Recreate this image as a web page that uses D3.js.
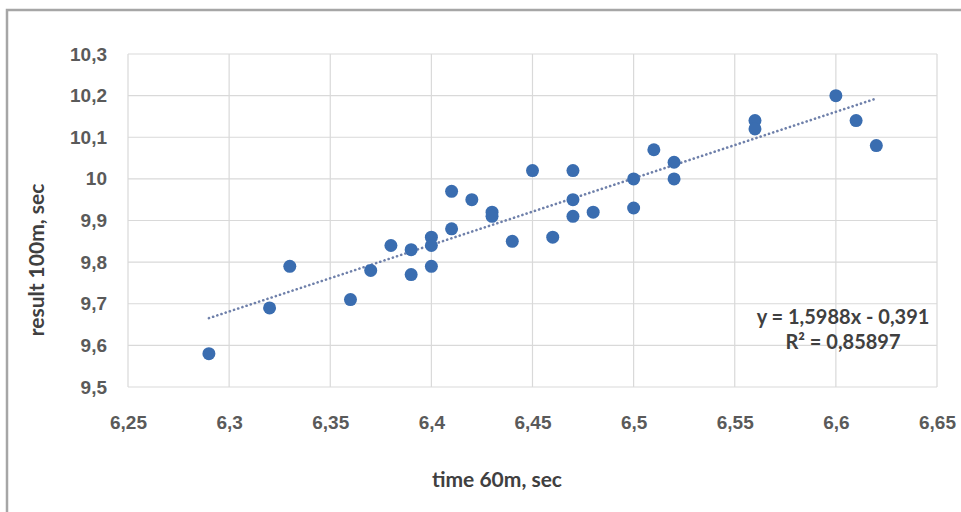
<!DOCTYPE html>
<html>
<head>
<meta charset="utf-8">
<script src="https://cdn.jsdelivr.net/npm/d3@7"></script>
<style>
  body { margin: 0; background: #fff; }
  svg { display: block; font-family: Lato, "Open Sans", sans-serif; }
</style>
</head>
<body>
<div id="chart"></div>
<script>
// time 60m (x) vs result 100m (y)
const time60 = [6.29, 6.32, 6.33, 6.36, 6.37, 6.38, 6.39, 6.39, 6.40, 6.40, 6.40,
                6.41, 6.41, 6.42, 6.43, 6.43, 6.44, 6.45, 6.46, 6.47, 6.47, 6.47,
                6.48, 6.50, 6.50, 6.51, 6.52, 6.52, 6.56, 6.56, 6.60, 6.61, 6.62];
const result100 = [9.58, 9.69, 9.79, 9.71, 9.78, 9.84, 9.83, 9.77, 9.86, 9.84, 9.79,
                   9.97, 9.88, 9.95, 9.92, 9.91, 9.85, 10.02, 9.86, 10.02, 9.95, 9.91,
                   9.92, 10.00, 9.93, 10.07, 10.04, 10.00, 10.14, 10.12, 10.20, 10.14, 10.08];
const xTicks = [6.25, 6.3, 6.35, 6.4, 6.45, 6.5, 6.55, 6.6, 6.65];
const yTicks = [9.5, 9.6, 9.7, 9.8, 9.9, 10, 10.1, 10.2, 10.3];
// linear trendline as shown on the chart
const slope = 1.5988, intercept = -0.391;
const eqLabel = "y = 1,5988x - 0,391";
const r2Label = "R² = 0,85897";

const width = 961, height = 512;
const margin = {left: 128, right: 24, top: 54, bottom: 125};

const svg = d3.select('#chart').append('svg')
    .attr('width', width)
    .attr('height', height);

// outer chart frame (cropped at right/bottom)
svg.append('rect')
    .attr('x', 7).attr('y', 10)
    .attr('width', width + 20).attr('height', height + 20)
    .attr('fill', 'none')
    .attr('stroke', '#a6a6a6')
    .attr('stroke-width', 2.5);

const x = d3.scaleLinear().domain([6.25, 6.65]).range([margin.left, width - margin.right]);
const y = d3.scaleLinear().domain([9.5, 10.3]).range([height - margin.bottom, margin.top]);

const fmt = d => String(+d.toFixed(2)).replace('.', ',');

// gridlines
svg.append('g')
    .selectAll('line')
    .data(xTicks)
    .join('line')
    .attr('x1', d => x(d)).attr('x2', d => x(d))
    .attr('y1', y(10.3)).attr('y2', y(9.5))
    .attr('stroke', '#d9d9d9').attr('stroke-width', 1.2);

svg.append('g')
    .selectAll('line')
    .data(yTicks)
    .join('line')
    .attr('x1', x(6.25)).attr('x2', x(6.65))
    .attr('y1', d => y(d)).attr('y2', d => y(d))
    .attr('stroke', '#d9d9d9').attr('stroke-width', 1.2);

// axes (labels only)
const xAxis = svg.append('g')
    .attr('transform', `translate(0,${y(9.5) + 25})`)
    .call(d3.axisBottom(x).tickValues(xTicks).tickFormat(fmt).tickSize(0));
const yAxis = svg.append('g')
    .attr('transform', `translate(${x(6.25) - 18},0)`)
    .call(d3.axisLeft(y).tickValues(yTicks).tickFormat(fmt).tickSize(0));
[xAxis, yAxis].forEach(a => {
    a.select('.domain').remove();
    a.selectAll('text')
        .attr('fill', '#5a5a5a')
        .style('font-size', '19px')
        .style('font-weight', '600');
});

// trendline
const tx0 = d3.min(time60), tx1 = d3.max(time60);
svg.append('line')
    .attr('x1', x(tx0)).attr('y1', y(slope * tx0 + intercept))
    .attr('x2', x(tx1)).attr('y2', y(slope * tx1 + intercept))
    .attr('stroke', '#6f80aa')
    .attr('stroke-width', 2.6)
    .attr('stroke-linecap', 'round')
    .attr('stroke-dasharray', '0.1,4.3');

// points
svg.append('g')
    .selectAll('circle')
    .data(time60.map((t, i) => [t, result100[i]]))
    .join('circle')
    .attr('cx', d => x(d[0]))
    .attr('cy', d => y(d[1]))
    .attr('r', 6.5)
    .attr('fill', '#3a6db0');

// equation
const eq = svg.append('text')
    .attr('x', 843).attr('y', 324)
    .attr('text-anchor', 'middle')
    .attr('fill', '#404040')
    .style('font-size', '20px')
    .style('font-weight', '700');
eq.append('tspan').attr('x', 843).attr('dy', 0).text(eqLabel);
eq.append('tspan').attr('x', 843).attr('dy', 25).text(r2Label);

// axis titles
svg.append('text')
    .attr('x', 497).attr('y', 487)
    .attr('text-anchor', 'middle')
    .attr('fill', '#404040')
    .style('font-size', '21px')
    .style('font-weight', '700')
    .text('time 60m, sec');

svg.append('text')
    .attr('transform', `translate(44,260) rotate(-90)`)
    .attr('text-anchor', 'middle')
    .attr('fill', '#404040')
    .style('font-size', '21px')
    .style('font-weight', '700')
    .text('result 100m, sec');
</script>
</body>
</html>
